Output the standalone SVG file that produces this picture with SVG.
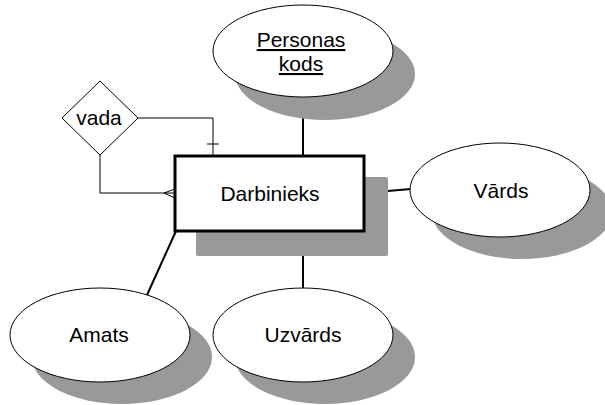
<svg xmlns="http://www.w3.org/2000/svg" width="605" height="405" viewBox="0 0 605 405">
<style>
.sh{fill:#999999;stroke:none}
.ent{fill:#ffffff;stroke:#000000;stroke-width:3}
.att{fill:#ffffff;stroke:#000000;stroke-width:1}
.rel{fill:#ffffff;stroke:#000000;stroke-width:1;stroke-linejoin:round}
.t{font-family:"Liberation Sans",Arial,sans-serif;font-size:21px;fill:#000000;text-anchor:middle}
.c{stroke:#000000;stroke-width:2;fill:none}
.c1{stroke:#000000;stroke-width:1;fill:none}
</style>
<rect width="605" height="405" fill="#ffffff"/>
<g id="connectors">
<line class="c" x1="303" y1="97" x2="303" y2="156"/>
<line class="c" x1="364" y1="193" x2="411" y2="189"/>
<line class="c" x1="176" y1="231" x2="147" y2="295"/>
<line class="c" x1="303" y1="231" x2="303" y2="288"/>
<polyline class="c1" points="138,118 213,118 213,156"/>
<line class="c1" x1="207" y1="144" x2="219" y2="144"/>
<polyline class="c1" points="100,155 100,193 175,193"/>
<polyline class="c1" points="175,189 164,193 175,198"/>
</g>
<g id="personas-kods">
<ellipse class="sh" cx="325" cy="74" rx="90" ry="46"/>
<ellipse class="att" cx="303" cy="51" rx="90" ry="46"/>
<text class="t" x="301" y="47" text-decoration="underline">Personas</text>
<text class="t" x="301" y="71" text-decoration="underline">kods</text>
</g>
<g id="vards">
<ellipse class="sh" cx="522" cy="212" rx="90" ry="47"/>
<ellipse class="att" cx="500" cy="190" rx="90" ry="47"/>
<text class="t" x="501" y="198">Vārds</text>
</g>
<g id="amats">
<ellipse class="sh" cx="122" cy="357" rx="90" ry="47"/>
<ellipse class="att" cx="100" cy="335" rx="90" ry="47"/>
<text class="t" x="99" y="342">Amats</text>
</g>
<g id="uzvards">
<ellipse class="sh" cx="325" cy="357" rx="90" ry="47"/>
<ellipse class="att" cx="303" cy="335" rx="90" ry="47"/>
<text class="t" x="303" y="342">Uzvārds</text>
</g>
<g id="darbinieks">
<rect class="sh" x="196" y="177" width="192" height="79" rx="2"/>
<rect class="ent" x="175" y="156" width="189" height="75"/>
<text class="t" x="270" y="201">Darbinieks</text>
</g>
<g id="vada">
<polygon class="rel" points="100,81 138,118 100,155 62,118"/>
<text class="t" x="99" y="125">vada</text>
</g>
</svg>
